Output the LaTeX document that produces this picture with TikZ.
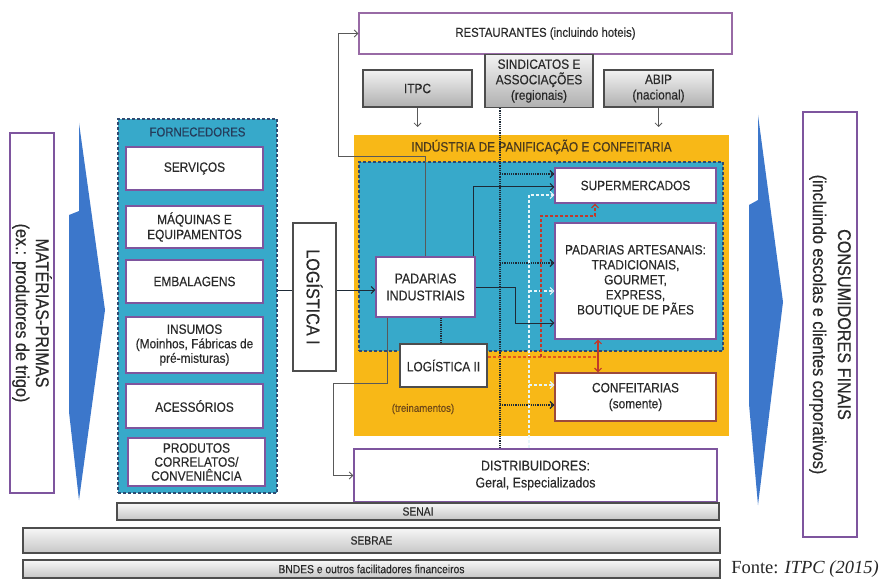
\documentclass[tikz,border=0pt]{standalone}
\usepackage{fontspec}
\setmainfont{Liberation Sans}[FakeStretch=0.88,FakeBold=0.35]
\newfontfamily\fontefont{Liberation Serif}
\usetikzlibrary{arrows.meta}
\definecolor{orng}{HTML}{F8B817}
\definecolor{cyanbg}{HTML}{37A9CA}
\definecolor{navy}{HTML}{2E4B72}
\definecolor{purp}{HTML}{7E559E}
\definecolor{txt}{HTML}{2A2A2A}
\definecolor{arrblue}{HTML}{3C77CB}
\definecolor{redc}{HTML}{C0392B}
\definecolor{orred}{HTML}{E4571E}
\definecolor{conbr}{HTML}{9C4A3C}
\definecolor{darkgr}{HTML}{4D4D4D}
\definecolor{lineblk}{HTML}{1E2A36}
\definecolor{lightc}{HTML}{E6F6FA}
\definecolor{titbr}{HTML}{4A3A1E}
\begin{document}
\begin{tikzpicture}[x=1pt,y=-1pt,
  tip/.style={-{Straight Barb[length=3.5pt,width=7pt]}},
  wbox/.style={draw=purp, line width=1.4pt, fill=white, text=txt, align=center, inner sep=0pt},
  gbox/.style={draw=darkgr, line width=1.3pt, top color=gray!10, bottom color=gray!62, text=txt, align=center, inner sep=0pt},
  barbox/.style={draw=darkgr, line width=1.2pt, top color=gray!6, bottom color=gray!45, text=txt, align=center, inner sep=0pt},
  kbox/.style={draw=darkgr, line width=1.3pt, fill=white, text=txt, align=center, inner sep=0pt},
  bf/.style={font=\fontsize{13.5}{15}\selectfont},
  gline/.style={draw=gray!70!black, line width=0.8pt},
  dline/.style={draw=lineblk, line width=1pt},
  sdot/.style={draw=lineblk, line width=1.2pt, densely dotted},
  ldot/.style={draw=lightc, line width=1.1pt, densely dashed},
  rdot/.style={draw=redc, line width=1.1pt, densely dashed},
  odot/.style={draw=orred, line width=1.1pt, densely dashed}]
\useasboundingbox (0,0) rectangle (886,580);
\fill[white] (0,0) rectangle (886,580);

% big blue arrows
\fill[arrblue] (79,123) -- (105,310) -- (79,500) -- (69,412) -- (69,215) -- (79,211) -- cycle;
\fill[arrblue] (758,115) -- (783,302) -- (758,505) -- (749,404) -- (749,205) -- (758,200) -- cycle;

% backgrounds
\node[fill=orng, minimum width=375pt, minimum height=301pt, inner sep=0pt] (ind) at (541.5,285.5) {};
\node[fill=cyanbg, draw=navy, line width=1.2pt, dash pattern=on 3pt off 2pt, minimum width=364pt, minimum height=189pt, inner sep=0pt] (indblue) at (541,256.5) {};
\node[text=titbr, font=\fontsize{13.5}{15}\selectfont] (indtitle) at (541.5,147) {INDÚSTRIA DE PANIFICAÇÃO E CONFEITARIA};
\node[fill=cyanbg, draw=navy, line width=1.2pt, dash pattern=on 3pt off 2pt, minimum width=159pt, minimum height=374pt, inner sep=0pt] (forn) at (197.5,306) {};
\node[text=navy!80!black, font=\fontsize{12.9}{14}\selectfont] (forntitle) at (197.5,132) {FORNECEDORES};

% top boxes
\node[wbox, draw=purp!80!pink, minimum width=373pt, minimum height=41pt, font=\fontsize{12.9}{14}\selectfont] (rest) at (545.5,33.5) {RESTAURANTES (incluindo hoteis)};
\node[gbox, minimum width=109pt, minimum height=37pt, bf] (itpc) at (417.5,88.5) {ITPC};
\node[gbox, minimum width=108pt, minimum height=53pt, font=\fontsize{13.5}{15.5}\selectfont] (sind) at (539,81) {SINDICATOS E\\ASSOCIAÇÕES\\(regionais)};
\node[gbox, minimum width=109pt, minimum height=37pt, font=\fontsize{13.5}{15.5}\selectfont] (abip) at (658.5,88.5) {ABIP\\(nacional)};

% fornecedores items
\node[wbox, minimum width=137pt, minimum height=43pt, bf] (serv) at (194.5,168.5) {SERVIÇOS};
\node[wbox, minimum width=137pt, minimum height=42pt, bf] (maq) at (194.5,227) {MÁQUINAS E\\EQUIPAMENTOS};
\node[wbox, minimum width=137pt, minimum height=43pt, bf] (emb) at (194.5,281.5) {EMBALAGENS};
\node[wbox, minimum width=137pt, minimum height=56pt, font=\fontsize{13.5}{14.5}\selectfont] (ins) at (194.5,345) {INSUMOS\\(Moinhos, Fábricas de\\pré-misturas)};
\node[wbox, minimum width=137pt, minimum height=44pt, bf] (aces) at (194.5,406) {ACESSÓRIOS};
\node[wbox, minimum width=137pt, minimum height=48pt, font=\fontsize{13.5}{14}\selectfont] (prod) at (196.5,462) {PRODUTOS\\CORRELATOS/\\CONVENIÊNCIA};

% side boxes
\node[wbox, minimum width=44pt, minimum height=360pt] (mat) at (32,313) {};
\node[text=txt, rotate=-90, align=center, font=\fontsize{18.4}{20}\selectfont] (matt) at (mat.center) {MATÉRIAS-PRIMAS\\(ex.: produtores de trigo)};
\node[wbox, minimum width=54pt, minimum height=425pt] (cons) at (830,324.5) {};
\node[text=txt, rotate=-90, align=center, font=\fontsize{18.4}{25}\selectfont] (const) at (cons.center) {CONSUMIDORES FINAIS\\(incluindo escolas e clientes corporativos)};

\node[kbox, minimum width=43pt, minimum height=148pt] (logI) at (314.5,297) {};
\node[text=txt, rotate=-90, font=\fontsize{18.4}{20}\selectfont] (logIt) at (logI.center) {LOGÍSTICA I};

% industry boxes
\node[wbox, minimum width=99pt, minimum height=60pt, font=\fontsize{14.1}{17}\selectfont] (padind) at (425.5,287) {PADARIAS\\INDUSTRIAIS};
\node[kbox, minimum width=87pt, minimum height=43pt, bf] (logII) at (443.5,365.5) {LOGÍSTICA II};
\node[text=titbr!80!orange, font=\fontsize{11}{12}\selectfont] (trein) at (423,409) {(treinamentos)};
\node[wbox, minimum width=161pt, minimum height=35pt, bf] (super) at (635.5,185.5) {SUPERMERCADOS};
\node[wbox, minimum width=161pt, minimum height=116pt, font=\fontsize{13.5}{15}\selectfont] (padart) at (635.5,281) {PADARIAS ARTESANAIS:\\TRADICIONAIS,\\GOURMET,\\EXPRESS,\\BOUTIQUE DE PÃES};
\node[wbox, draw=conbr, minimum width=161pt, minimum height=48pt, font=\fontsize{13.5}{16}\selectfont] (conf) at (635.5,397) {CONFEITARIAS\\(somente)};
\node[wbox, minimum width=363pt, minimum height=53pt, font=\fontsize{14.1}{17}\selectfont] (dist) at (535.5,475.5) {DISTRIBUIDORES:\\Geral, Especializados};

% bars
\node[barbox, minimum width=602pt, minimum height=17pt, font=\fontsize{11.7}{12}\selectfont] (senai) at (418,511.5) {SENAI};
\node[barbox, minimum width=697pt, minimum height=25pt, font=\fontsize{11.7}{12}\selectfont] (sebrae) at (371.5,540.5) {SEBRAE};
\node[barbox, minimum width=697pt, minimum height=18pt, font=\fontsize{11.7}{12}\selectfont] (bndes) at (371.5,569) {BNDES e outros facilitadores financeiros};
\node[text=black!85, font=\fontefont\fontsize{18.5}{20}\selectfont] (fonte) at (805,569) {Fonte: \textit{ITPC (2015)}};

% connectors
\draw[gline, tip] (itpc.south) -- (417.5,127);
\draw[gline, tip] (abip.south) -- (658.5,127);
\draw[gline, tip] (padind.north) |- (338,156) |- (rest.west);
\draw[dline] (forn.east |- 0,290) -- (logI.west |- 0,290);
\draw[dline, tip] (logI.east |- 0,290) -- (padind.west |- 0,290);
\draw[gline, tip] (padind.south -| 387,0) |- (333,383) |- (dist.west);
\draw[sdot] (padind.south -| 441,0) -- (logII.north -| 441,0);
\draw[dline, tip] ([xshift=-2pt]padind.north east) |- (super.west |- 0,187);
\draw[dline, tip] (padind.east) -- (515,287) |- (padart.west |- 0,323);

\draw[sdot] (sind.south -| 500,0) -- (dist.north -| 500,0);
\draw[sdot, tip] (500,174) -- (super.west |- 0,174);
\draw[sdot, tip] (500,263) -- (padart.west |- 0,263);
\draw[sdot, tip] (500,405) -- (conf.west |- 0,405);

\draw[ldot, tip] (dist.north -| 529,0) |- (super.west |- 0,195);
\draw[ldot, tip] (529,291) -- (padart.west |- 0,291);
\draw[ldot, tip] (529,385) -- (conf.west |- 0,385);

\draw[odot] (logII.east |- 0,357) -- (598,357);
\draw[rdot, tip] (541,357) |- (595,216) -- (super.south -| 595,0);
\draw[draw=redc, line width=1.1pt, {Straight Barb[length=3.5pt,width=7pt]}-{Straight Barb[length=3.5pt,width=7pt]}] (padart.south -| 598,0) -- (conf.north -| 598,0);
\end{tikzpicture}
\end{document}
